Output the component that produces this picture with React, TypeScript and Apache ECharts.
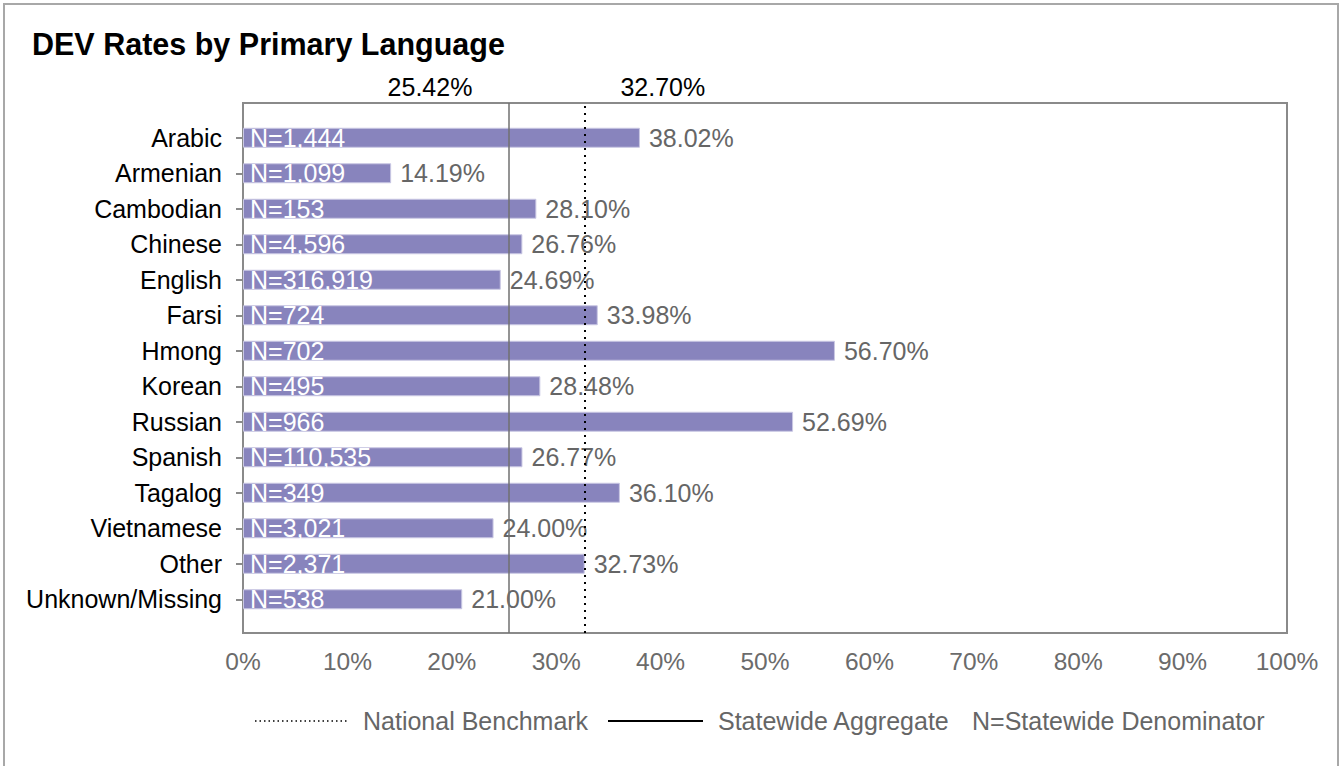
import React, { useEffect, useRef } from "react";
import * as echarts from "echarts";

const FONT = "'Liberation Sans', Arial, sans-serif";

const categories = [
  "Arabic",
  "Armenian",
  "Cambodian",
  "Chinese",
  "English",
  "Farsi",
  "Hmong",
  "Korean",
  "Russian",
  "Spanish",
  "Tagalog",
  "Vietnamese",
  "Other",
  "Unknown/Missing",
];
const rates = [38.02, 14.19, 28.1, 26.76, 24.69, 33.98, 56.7, 28.48, 52.69, 26.77, 36.1, 24.0, 32.73, 21.0];
const denominators = [1444, 1099, 153, 4596, 316919, 724, 702, 495, 966, 110535, 349, 3021, 2371, 538];
const statewideAggregate = 25.42;
const nationalBenchmark = 32.7;
const legendLabels = ["National Benchmark", "Statewide Aggregate", "N=Statewide Denominator"];
const titleText = "DEV Rates by Primary Language";

export default function App() {
  const ref = useRef<HTMLDivElement>(null);

  useEffect(() => {
    if (!ref.current) return;
    const chart = echarts.init(ref.current, null, { renderer: "svg" });
    const option: any = {
      animation: false,
      backgroundColor: "#ffffff",
      textStyle: { fontFamily: FONT },
      title: {
        text: titleText,
        left: 27,
        top: 23,
        textStyle: { fontFamily: FONT, fontSize: 30.5, fontWeight: "bold", color: "#000" },
      },
      grid: [
        {
          left: 243,
          right: 54,
          top: 103,
          height: 530,
          show: true,
          borderColor: "#8a8a8a",
          borderWidth: 2,
          backgroundColor: "transparent",
        },
        { left: 243, right: 54, top: 120, height: 497 },
      ],
      xAxis: [
        {
          gridIndex: 0,
          type: "value",
          min: 0,
          max: 100,
          interval: 10,
          axisLabel: { formatter: "{value}%", fontSize: 24.5, color: "#6b6b6b", margin: 16, fontFamily: FONT },
          axisLine: { show: false },
          axisTick: { show: false },
          splitLine: { show: false },
        },
        { gridIndex: 1, type: "value", min: 0, max: 100, show: false },
      ],
      yAxis: [
        { gridIndex: 0, type: "value", min: 0, max: 1, show: false },
        {
          gridIndex: 1,
          type: "category",
          data: categories,
          inverse: true,
          axisLine: { show: false },
          axisTick: { show: true, alignWithLabel: true, length: 7, lineStyle: { color: "#8a8a8a", width: 2 } },
          axisLabel: { fontSize: 25, color: "#000", margin: 21, fontFamily: FONT },
        },
      ],
      series: [
        {
          type: "bar",
          xAxisIndex: 1,
          yAxisIndex: 1,
          data: rates,
          barWidth: 20,
          itemStyle: { color: "#8884bd", borderColor: "#c9c7e3", borderWidth: 1 },
          label: {
            show: true,
            position: "right",
            distance: 9,
            formatter: (p: any) => Number(p.value).toFixed(2) + "%",
            color: "#666",
            fontSize: 25,
            fontFamily: FONT,
          },
        },
        {
          type: "bar",
          xAxisIndex: 1,
          yAxisIndex: 1,
          data: rates,
          barWidth: 20,
          barGap: "-100%",
          silent: true,
          itemStyle: { color: "transparent" },
          label: {
            show: true,
            position: "insideLeft",
            distance: 7,
            formatter: (p: any) => "N=" + denominators[p.dataIndex].toLocaleString("en-US"),
            color: "#fff",
            fontSize: 25,
            fontFamily: FONT,
          },
        },
        {
          type: "line",
          name: legendLabels[1],
          xAxisIndex: 0,
          yAxisIndex: 0,
          data: [],
          z: 6,
          markLine: {
            silent: true,
            symbol: "none",
            label: { show: false },
            lineStyle: { type: "solid", color: "#707070", width: 1.5 },
            data: [{ xAxis: statewideAggregate }],
          },
        },
        {
          type: "line",
          name: legendLabels[0],
          xAxisIndex: 0,
          yAxisIndex: 0,
          data: [],
          z: 6,
          markLine: {
            silent: true,
            symbol: "none",
            label: { show: false },
            lineStyle: { type: [2, 5], color: "#000", width: 2 },
            data: [{ xAxis: nationalBenchmark }],
          },
        },
      ],
    };
    chart.setOption(option);

    const xs = chart.convertToPixel({ xAxisIndex: 0 }, statewideAggregate) as number;
    const xn = chart.convertToPixel({ xAxisIndex: 0 }, nationalBenchmark) as number;
    const legendY = 721;
    const legendText = { fontSize: 25, fontFamily: FONT, fill: "#666" };

    chart.setOption({
      graphic: [
        {
          type: "rect",
          shape: { x: 4, y: 4, width: 1334, height: 800 },
          style: { fill: "transparent", stroke: "#a8a8a8", lineWidth: 2 },
          silent: true,
          z: -1,
        },
        {
          type: "text",
          x: xs - 36,
          y: 87,
          style: {
            text: statewideAggregate.toFixed(2) + "%",
            fontSize: 25,
            fontFamily: FONT,
            fill: "#000",
            align: "right",
            verticalAlign: "middle",
          },
        },
        {
          type: "text",
          x: xn + 36,
          y: 87,
          style: {
            text: nationalBenchmark.toFixed(2) + "%",
            fontSize: 25,
            fontFamily: FONT,
            fill: "#000",
            align: "left",
            verticalAlign: "middle",
          },
        },
        {
          type: "line",
          shape: { x1: 255, y1: legendY, x2: 347, y2: legendY },
          style: { stroke: "#000", lineWidth: 1.5, lineDash: [1.5, 3] },
        },
        {
          type: "text",
          x: 363,
          y: legendY,
          style: { ...legendText, text: legendLabels[0], verticalAlign: "middle" },
        },
        {
          type: "line",
          shape: { x1: 608, y1: legendY, x2: 703, y2: legendY },
          style: { stroke: "#000", lineWidth: 2 },
        },
        {
          type: "text",
          x: 718,
          y: legendY,
          style: { ...legendText, text: legendLabels[1], verticalAlign: "middle" },
        },
        {
          type: "text",
          x: 972,
          y: legendY,
          style: { ...legendText, text: legendLabels[2], verticalAlign: "middle" },
        },
      ],
    });

    return () => chart.dispose();
  }, []);

  return (
    <div
      ref={ref}
      style={{ position: "absolute", left: 0, top: 0, width: 1341, height: 766, background: "#fff" }}
    />
  );
}
